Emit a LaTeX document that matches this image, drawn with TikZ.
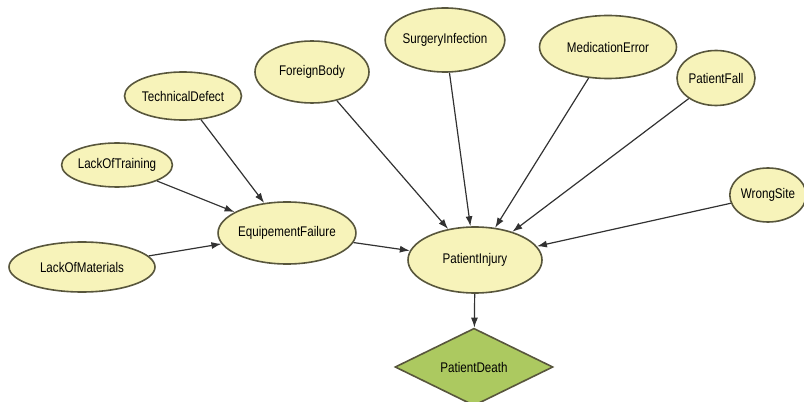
\documentclass[tikz,border=0pt]{standalone}
\usepackage{fontspec}
\setmainfont{Liberation Sans}[FakeStretch=0.83]
\usepackage{tikz}
\usepackage{tkz-graph}
\usetikzlibrary{shapes.geometric,arrows.meta}
\definecolor{nodefill}{RGB}{247,243,186}
\definecolor{nodeline}{RGB}{88,86,60}
\definecolor{leaffill}{RGB}{172,201,96}
\definecolor{edgeline}{RGB}{50,50,50}

\begin{document}
\begin{tikzpicture}[x=1pt,y=1pt]
        \useasboundingbox (0,0) rectangle (804,402);
        \SetUpEdge[lw = 1.2pt,
        color = edgeline,
        labelcolor = white]
        \GraphInit[vstyle=Normal]
        \tikzset{VertexStyle/.append style={shape = ellipse, fill = nodefill,
            draw = nodeline, line width = 1.6pt, inner sep = 0pt,
            font = \fontsize{14}{16}\selectfont}}
        \tikzset{VertexStyle/.append style={minimum width=114pt, minimum height=62pt}}
        \Vertex[x=312, y=330]{ForeignBody}
        \tikzset{VertexStyle/.append style={minimum width=117pt, minimum height=48pt}}
        \Vertex[x=183, y=306]{TechnicalDefect}
        \tikzset{VertexStyle/.append style={minimum width=109pt, minimum height=44pt}}
        \Vertex[x=117, y=237]{LackOfTraining}
        \tikzset{VertexStyle/.append style={minimum width=146pt, minimum height=50pt}}
        \Vertex[x=82, y=135]{LackOfMaterials}
        \tikzset{VertexStyle/.append style={minimum width=129pt, minimum height=62pt}}
        \Vertex[x=287, y=169]{EquipementFailure}
        \tikzset{VertexStyle/.append style={minimum width=119pt, minimum height=64pt}}
        \Vertex[x=445, y=362]{SurgeryInfection}
        \tikzset{VertexStyle/.append style={minimum width=137pt, minimum height=63pt}}
        \Vertex[x=608, y=355]{MedicationError}
        \tikzset{VertexStyle/.append style={minimum width=78pt, minimum height=55pt}}
        \Vertex[x=716, y=324]{PatientFall}
        \tikzset{VertexStyle/.append style={minimum width=70pt, minimum height=54pt}}
        \Vertex[x=768, y=207]{WrongSite}
        \tikzset{VertexStyle/.append style={minimum width=134pt, minimum height=66pt}}
        \Vertex[x=475, y=142]{PatientInjury}
        \tikzset{VertexStyle/.append style={shape = diamond, fill = leaffill,
            minimum width=158pt, minimum height=67pt}}
        \Vertex[x=474, y=35]{PatientDeath}
        \tikzset{EdgeStyle/.append style={-{Latex[length=10pt,width=7pt]},
            line width = 1.2pt, draw = edgeline}}
        \Edge(TechnicalDefect)(EquipementFailure)
        \Edge(LackOfTraining)(EquipementFailure)
        \Edge(LackOfMaterials)(EquipementFailure)
        \Edge(EquipementFailure)(PatientInjury)
        \Edge(ForeignBody)(PatientInjury)
        \Edge(SurgeryInfection)(PatientInjury)
        \Edge(MedicationError)(PatientInjury)
        \Edge(PatientFall)(PatientInjury)
        \Edge(WrongSite)(PatientInjury)
        \Edge(PatientInjury)(PatientDeath)
    \end{tikzpicture}
\end{document}
